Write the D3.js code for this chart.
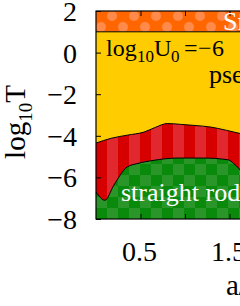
<!DOCTYPE html>
<html lang="en">
<head>
<meta charset="UTF-8">
<title>Phase diagram</title>
<style>
  html, body { margin: 0; padding: 0; background: #fff; overflow: hidden; }
  svg { display: block; font-family: "Liberation Serif", "Times New Roman", serif; }
  .tick-label { font-size: 28px; fill: #000; }
</style>
</head>
<body>
<svg id="chart" width="240" height="306"></svg>
<script src="https://d3js.org/d3.v7.min.js"></script>
<script>
// boundary between yellow (pseudo) and red region
const upperX = [0, 0.17, 0.35, 0.54, 0.67, 0.80, 0.95, 1.10, 1.29, 1.47, 1.65];
const upperY = [-4.35, -4.12, -3.97, -3.82, -3.59, -3.41, -3.45, -3.50, -3.58, -3.74, -3.92];
// boundary between red region and green (straight rod)
const lowerX = [0, 0.10, 0.20, 0.35, 0.46, 0.65, 0.91, 1.21, 1.48, 1.55, 1.65];
const lowerY = [-6.7, -7.1, -6.38, -5.50, -5.34, -5.18, -5.07, -5.07, -5.15, -5.34, -5.8];
// orange band boundary
const topBand = 1;
const yTicks = [2, 0, -2, -4, -6, -8];
const xTicks = [0.5, 1, 1.5, 2];
const xLabels = ["0.5", "", "1.5", ""];

const svg = d3.select("#chart");
const x = d3.scaleLinear().domain([0, 2]).range([96, 274]);
const y = d3.scaleLinear().domain([-8, 2]).range([219, 11]);

const upper = upperX.map((v, i) => [v, upperY[i]]);
const lower = lowerX.map((v, i) => [v, lowerY[i]]);
const curve = d3.curveMonotoneX;

// patterns
const defs = svg.append("defs");
const pOr = defs.append("pattern").attr("id", "dots").attr("patternUnits", "userSpaceOnUse")
  .attr("width", 22).attr("height", 22).attr("x", 96).attr("y", 0);
pOr.append("rect").attr("width", 22).attr("height", 22).attr("fill", "#ff6600");
pOr.append("circle").attr("cx", 5).attr("cy", 5).attr("r", 5).attr("fill", "#ff8a4a");
pOr.append("circle").attr("cx", 16).attr("cy", 16).attr("r", 5).attr("fill", "#ff8a4a");

const pRed = defs.append("pattern").attr("id", "stripes").attr("patternUnits", "userSpaceOnUse")
  .attr("width", 22).attr("height", 10).attr("x", 96);
pRed.append("rect").attr("width", 22).attr("height", 10).attr("fill", "#d70000");
pRed.append("rect").attr("x", 11).attr("width", 11).attr("height", 10).attr("fill", "#e0282e");

const pGr = defs.append("pattern").attr("id", "checks").attr("patternUnits", "userSpaceOnUse")
  .attr("width", 22).attr("height", 22).attr("x", 96).attr("y", 219);
pGr.append("rect").attr("width", 22).attr("height", 22).attr("fill", "#0a8a0a");
pGr.append("rect").attr("width", 11).attr("height", 11).attr("fill", "#2a962a");
pGr.append("rect").attr("x", 11).attr("y", 11).attr("width", 11).attr("height", 11).attr("fill", "#2a962a");

// regions
svg.append("rect").attr("x", x(0)).attr("y", y(2)).attr("width", x(2) - x(0))
  .attr("height", y(topBand) - y(2)).attr("fill", "url(#dots)");

svg.append("path").datum(upper)
  .attr("fill", "#ffcc00")
  .attr("d", d3.area().curve(curve).x(d => x(d[0])).y0(y(topBand)).y1(d => y(d[1])));

svg.append("path").datum(upper)
  .attr("fill", "url(#stripes)")
  .attr("d", d3.area().curve(curve).x(d => x(d[0])).y0(y(-8)).y1(d => y(d[1])));

svg.append("path").datum(lower)
  .attr("fill", "url(#checks)")
  .attr("d", d3.area().curve(curve).x(d => x(d[0])).y0(y(-8)).y1(d => y(d[1])));

// boundary lines
const line = d3.line().curve(curve).x(d => x(d[0])).y(d => y(d[1]));
svg.append("path").datum(upper).attr("d", line).attr("fill", "none").attr("stroke", "#000").attr("stroke-width", 1);
svg.append("path").datum(lower).attr("d", line).attr("fill", "none").attr("stroke", "#000").attr("stroke-width", 1);
svg.append("line").attr("x1", x(0)).attr("x2", x(2)).attr("y1", y(topBand)).attr("y2", y(topBand))
  .attr("stroke", "#000").attr("stroke-width", 1);

// frame
svg.append("rect").attr("x", x(0)).attr("y", y(2)).attr("width", x(2) - x(0)).attr("height", y(-8) - y(2))
  .attr("fill", "none").attr("stroke", "#000").attr("stroke-width", 1.2);

// axes (ticks point inward on all sides)
svg.append("g").attr("transform", `translate(${x(0)},0)`)
  .call(d3.axisRight(y).tickValues(yTicks).tickSize(5).tickFormat(""));
svg.append("g").attr("transform", `translate(0,${y(2)})`)
  .call(d3.axisBottom(x).tickValues(xTicks).tickSize(5).tickFormat(""));
svg.append("g").attr("transform", `translate(0,${y(-8)})`)
  .call(d3.axisTop(x).tickValues(xTicks).tickSize(5).tickFormat(""));
svg.selectAll(".domain").remove();
svg.selectAll(".tick line").attr("stroke", "#000");

svg.append("g").selectAll("text").data(yTicks).join("text")
  .attr("class", "tick-label")
  .attr("x", 77).attr("y", d => y(d) + 10)
  .attr("text-anchor", "end")
  .text(d => d < 0 ? "\u2212" + Math.abs(d) : d);

svg.append("g").selectAll("text").data(xTicks).join("text")
  .attr("class", "tick-label")
  .attr("x", d => x(d) - 1).attr("y", 261)
  .attr("text-anchor", "middle")
  .text((d, i) => xLabels[i]);

// axis titles
const yt = svg.append("text").attr("transform", "translate(25,122) rotate(-90)")
  .attr("text-anchor", "middle").attr("font-size", 29);
yt.append("tspan").text("log");
yt.append("tspan").attr("font-size", 19).attr("dy", 7).text("10");
yt.append("tspan").attr("dy", -7).text("T");

svg.append("text").attr("x", 226).attr("y", 295).attr("font-size", 29).text("a/L");

// region labels (pieces placed one by one)
const u = svg.append("text").attr("y", 56).attr("font-size", 24);
u.append("tspan").attr("x", 106).text("log");
u.append("tspan").attr("x", 137).attr("font-size", 17).attr("dy", 6).text("10");
u.append("tspan").attr("x", 154).attr("dy", -6).text("U");
u.append("tspan").attr("x", 171).attr("font-size", 17).attr("dy", 6).text("0");
u.append("tspan").attr("x", 184).attr("dy", -6).text("=");
u.append("tspan").attr("x", 198).text("\u2212");
u.append("tspan").attr("x", 212).text("6");

svg.append("text").attr("x", 209).attr("y", 83).attr("font-size", 26).text("pseudo");
svg.append("text").attr("x", 223).attr("y", 30).attr("font-size", 26).attr("fill", "#fff").text("Smectic");
svg.append("text").attr("x", 121).attr("y", 201).attr("font-size", 26).attr("fill", "#fff").text("straight rod");
</script>
</body>
</html>
